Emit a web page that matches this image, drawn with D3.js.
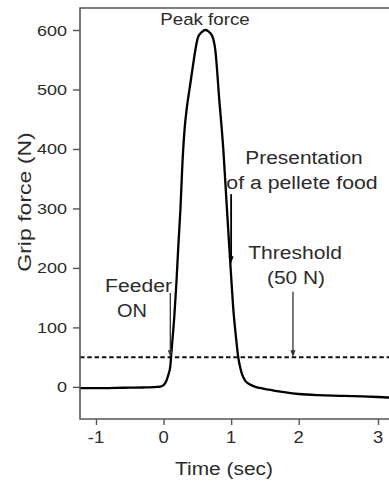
<!DOCTYPE html>
<html>
<head>
<meta charset="utf-8">
<script src="https://cdn.jsdelivr.net/npm/d3@7/dist/d3.min.js"></script>
<style>
  html, body { margin: 0; padding: 0; background: #fff; }
  svg { display: block; }
  text { font-family: "Liberation Sans", Arial, Helvetica, sans-serif; fill: #2b2b2b; }
</style>
</head>
<body>
<div id="chart"></div>
<script>
// Grip force trace (N) against time (sec) around a feeder trial
const timeSec = [-1.24, -0.9, -0.6, -0.3, -0.1, -0.05, 0, 0.04, 0.07, 0.10, 0.11, 0.135, 0.16, 0.19, 0.22,
  0.25, 0.28, 0.31, 0.345, 0.39, 0.435, 0.47, 0.51, 0.57, 0.62, 0.66, 0.72, 0.765, 0.825, 0.885, 0.93, 0.97,
  1.00, 1.03, 1.075, 1.105, 1.135, 1.165, 1.21, 1.28, 1.36, 1.475, 1.73, 2.0, 2.25, 2.52, 2.8, 3.0, 3.2, 3.4];
const gripForce = [-2, -2, -1.5, -1, 0, 0.5, 3, 10, 20, 35, 50, 84, 120, 175, 240,
  300, 378, 432, 470, 505, 540, 566, 588, 597, 600, 598, 590, 567, 482, 398, 314, 240,
  186, 134, 80, 50, 32, 20, 10, 4, 0, -3, -8, -12, -14, -15, -16, -17, -18, -18];

const yTicks = [0, 100, 200, 300, 400, 500, 600];
const xTicks = [-1, 0, 1, 2, 3];
const threshold = 50;

// Annotation arrows in data units: time, start force, end force
const arrowTimes = [0.10, 1.00, 1.915];
const arrowFrom = [158, 324, 160];
const arrowTo = [50, 208, 50];

const W = 389, H = 484;
const plotLeft = 80, plotTop = 8, plotBottom = 419;

const x = d3.scaleLinear().domain([-1, 2, 3]).range([96, 298.7, 378]);
const y = d3.scaleLinear().domain([-54, 637]).range([plotBottom, plotTop]);

const svg = d3.select("#chart").append("svg").attr("width", W).attr("height", H);

function label(str, px, py, size, sx, anchor = "middle", rotate = 0) {
  svg.append("text")
    .attr("transform", `translate(${px},${py})` + (rotate ? ` rotate(${rotate})` : "") + ` scale(${sx},1)`)
    .attr("text-anchor", anchor)
    .style("font-size", size + "px")
    .text(str);
}

// Threshold line
svg.append("line")
  .attr("x1", plotLeft).attr("x2", W)
  .attr("y1", y(threshold)).attr("y2", y(threshold))
  .attr("stroke", "#111").attr("stroke-width", 2)
  .attr("stroke-dasharray", "4.5,2.8");

// Force trace
const line = d3.line().x((d, i) => x(timeSec[i])).y(d => y(d)).curve(d3.curveMonotoneX);
svg.append("path")
  .attr("d", line(gripForce))
  .attr("fill", "none").attr("stroke", "#000").attr("stroke-width", 2.3)
  .attr("stroke-linejoin", "round");

// Frame
const frameColor = "#555";
svg.append("path")
  .attr("d", `M${W},${plotTop}H${plotLeft}V${plotBottom}H${W}`)
  .attr("fill", "none").attr("stroke", frameColor).attr("stroke-width", 1.6);

// Axis ticks
const yAxis = d3.axisLeft(y).tickValues(yTicks).tickSize(7).tickFormat("");
const gy = svg.append("g").attr("transform", `translate(${plotLeft},0)`).call(yAxis);
const xAxis = d3.axisBottom(x).tickValues(xTicks).tickSize(6).tickFormat("");
const gx = svg.append("g").attr("transform", `translate(0,${plotBottom})`).call(xAxis);
[gy, gx].forEach(g => {
  g.select(".domain").remove();
  g.selectAll(".tick line").attr("stroke", frameColor).attr("stroke-width", 1.4);
});

// Tick labels
yTicks.forEach(v => label(String(v), 67, y(v) + 5.5, 15, 1.2, "end"));
xTicks.forEach(v => label(String(v), x(v), 443, 16, 1.15, "middle"));

// Axis titles
label("Time (sec)", 224, 475, 19, 1.1, "middle");
label("Grip force (N)", 31, 202, 18, 1.28, "middle", -90);

// Arrows
arrowTimes.forEach((t, i) => {
  const ax = x(t), y0 = y(arrowFrom[i]), y1 = y(arrowTo[i]);
  const w = i === 1 ? 1.8 : 1.3;
  const col = i === 1 ? "#000" : "#333";
  svg.append("line").attr("x1", ax).attr("x2", ax).attr("y1", y0).attr("y2", y1 - 5)
    .attr("stroke", col).attr("stroke-width", w);
  svg.append("path")
    .attr("d", `M${ax - 2.5},${y1 - 7}L${ax + 2.5},${y1 - 7}L${ax},${y1}Z`)
    .attr("fill", col);
});

// Annotations
label("Peak force", 205, 25, 17, 1.1, "middle");
label("Presentation", 304, 164, 19, 1.1, "middle");
label("of a pellete food", 302, 189, 19, 1.12, "middle");
label("Feeder", 138.5, 292, 19, 1.11, "middle");
label("ON", 132, 317, 19, 1.05, "middle");
label("Threshold", 295, 259, 19, 1.11, "middle");
label("(50 N)", 296, 284, 19, 1.1, "middle");
</script>
</body>
</html>
